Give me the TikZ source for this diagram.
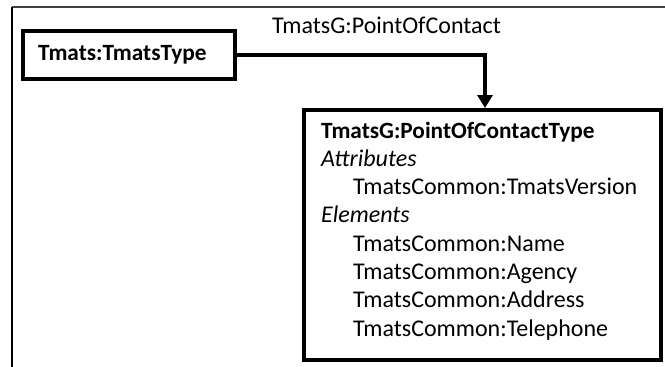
\documentclass[tikz,border=0pt]{standalone}
\usepackage{fontspec}
\setmainfont{Carlito}
\usetikzlibrary{arrows.meta}
\begin{document}
\begin{tikzpicture}[x=1pt,y=-1pt,
  txt/.style={anchor=base west,inner sep=0pt,font=\fontsize{24}{28.3}\selectfont},
  btxt/.style={txt,font=\fontsize{23.3}{28.3}\selectfont\bfseries},
  itxt/.style={txt,font=\fontsize{24}{28.3}\selectfont\itshape},
  typebox/.style={draw=black,line width=4pt,fill=white,inner sep=0pt},
  conn/.style={draw=black,line width=4pt,-{Triangle[length=13pt,width=15pt]}},
  framel/.style={line width=2pt,draw=black}]
\useasboundingbox (0,0) rectangle (665,367);
% outer frame
\coordinate (ftr) at (665,7);
\coordinate (ftl) at (12,7);
\coordinate (fbl) at (12,367);
\draw[line width=1.5pt,draw=black!75] (ftr) -- (ftl);
\draw[framel] (ftl) -- (fbl);
% boxes
\node[typebox,minimum width=212pt,minimum height=48pt] (tmats) at (129,55) {};
\node[btxt] (tmatsT) at (38,60) {Tmats:TmatsType};
\node[typebox,minimum width=357pt,minimum height=250pt] (poc) at (482.5,235) {};
% label
\node[txt] (lbl) at (272,33) {TmatsG:PointOfContact};
% connector
\draw[conn] (tmats.east) -| ([xshift=2.5pt]poc.north);
% contents
\node[btxt] (t0) at (321,138) {TmatsG:PointOfContactType};
\node[itxt] (t1) at (321,166.3) {Attributes};
\node[txt] (t2) at (353,194.6) {TmatsCommon:TmatsVersion};
\node[itxt] (t3) at (321,222.9) {Elements};
\node[txt] (t4) at (353,251.2) {TmatsCommon:Name};
\node[txt] (t5) at (353,279.5) {TmatsCommon:Agency};
\node[txt] (t6) at (353,307.8) {TmatsCommon:Address};
\node[txt] (t7) at (353,336.1) {TmatsCommon:Telephone};
\end{tikzpicture}
\end{document}
